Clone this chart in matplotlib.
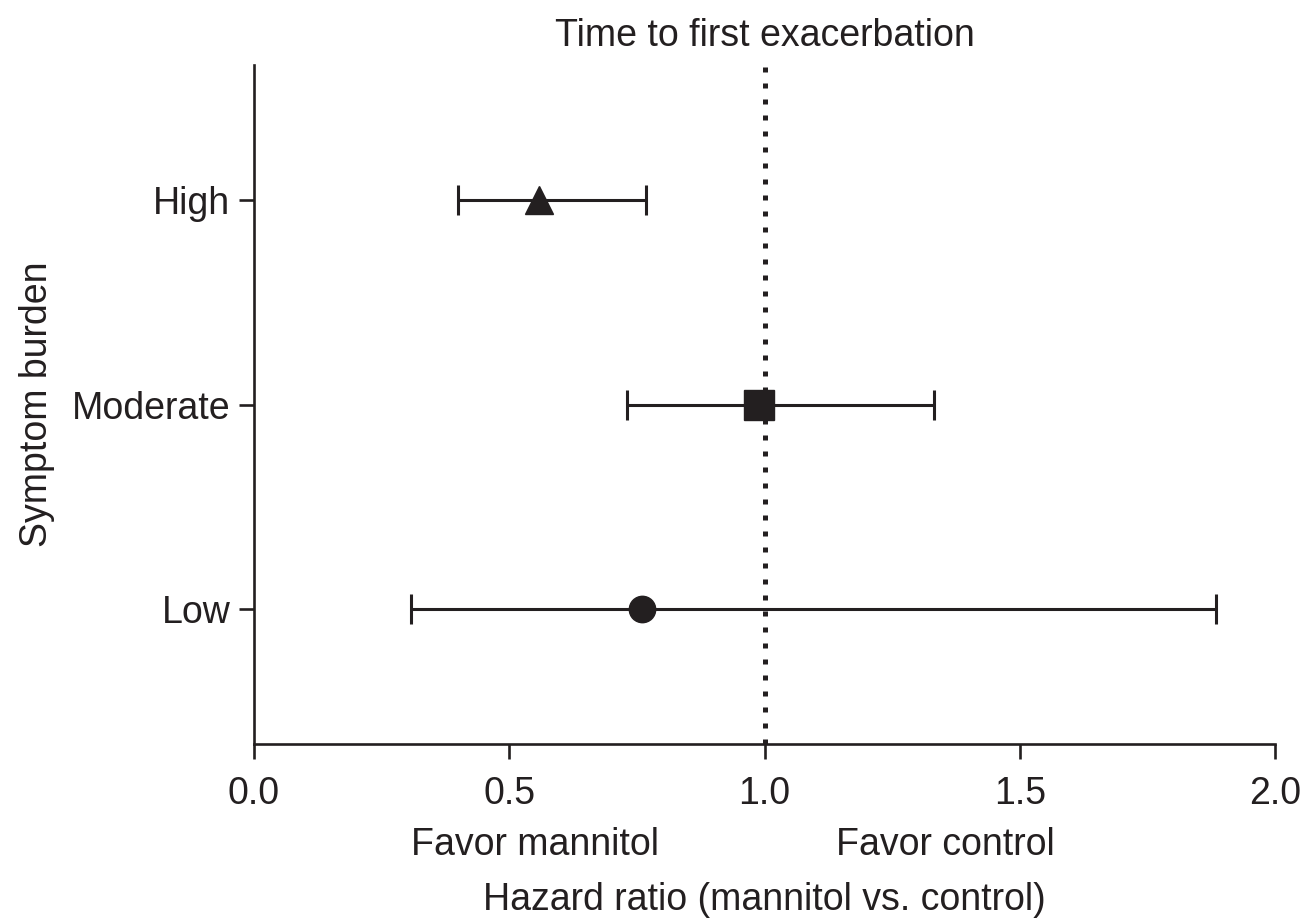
import matplotlib
matplotlib.use("Agg")
import matplotlib.pyplot as plt
import matplotlib.transforms as mtransforms

plt.rcParams['font.family'] = ['Liberation Sans', 'DejaVu Sans']

# data
groups = ['Low', 'Moderate', 'High']
hazard_ratio = [0.76, 0.99, 0.558]
ci_low = [0.308, 0.731, 0.40]
ci_high = [1.884, 1.332, 0.768]
markers = ['o', 's', '^']
marker_sizes = [19, 22, 20]
xticks = [0.0, 0.5, 1.0, 1.5, 2.0]

ink = '#231f20'
fs = 27

fig = plt.figure(figsize=(13.04, 9.21), dpi=100)
ax = fig.add_axes([0.1948, 0.1922, 0.9778 - 0.1948, 0.9294 - 0.1922])

ypos = list(range(1, len(groups) + 1))
for y, hr, lo, hi, m, ms in zip(ypos, hazard_ratio, ci_low, ci_high, markers, marker_sizes):
    ax.errorbar(hr, y, xerr=[[hr - lo], [hi - hr]], fmt=m, color=ink,
                ecolor=ink, elinewidth=2.2, capsize=10.5, capthick=2.2,
                markersize=ms, zorder=3)

# reference line at HR = 1
ax.axvline(1.0, color=ink, linewidth=3.6, linestyle=(0, (1, 2.2)),
           dash_capstyle='butt', zorder=2)

ax.set_xlim(0, 2)
ax.set_ylim(0.34, 3.66)
ax.set_xticks(xticks)
ax.set_xticklabels([f'{v:.1f}' for v in xticks])
ax.set_yticks(ypos)
ax.set_yticklabels(groups)

for side in ['top', 'right']:
    ax.spines[side].set_visible(False)
for side in ['left', 'bottom']:
    ax.spines[side].set_linewidth(1.9)
    ax.spines[side].set_color(ink)

ax.tick_params(axis='both', which='major', labelsize=fs, length=11,
               width=1.9, color=ink, labelcolor=ink)
ax.tick_params(axis='x', pad=12)
ax.tick_params(axis='y', pad=6)

ax.set_title('Time to first exacerbation', fontsize=fs, color=ink, pad=14)
ax.set_ylabel('Symptom burden', fontsize=fs, color=ink, labelpad=12)

trans = mtransforms.blended_transform_factory(ax.transData, fig.transFigure)
ax.text(0.55, 1 - 845 / 921, 'Favor mannitol', transform=trans,
        ha='center', va='center', fontsize=fs, color=ink)
ax.text(1.354, 1 - 845 / 921, 'Favor control', transform=trans,
        ha='center', va='center', fontsize=fs, color=ink)
fig.text(0.5 * (0.1948 + 0.9778), 1 - 900 / 921,
         'Hazard ratio (mannitol vs. control)', ha='center', va='center',
         fontsize=fs, color=ink)

fig.savefig('out.png', dpi=100)
